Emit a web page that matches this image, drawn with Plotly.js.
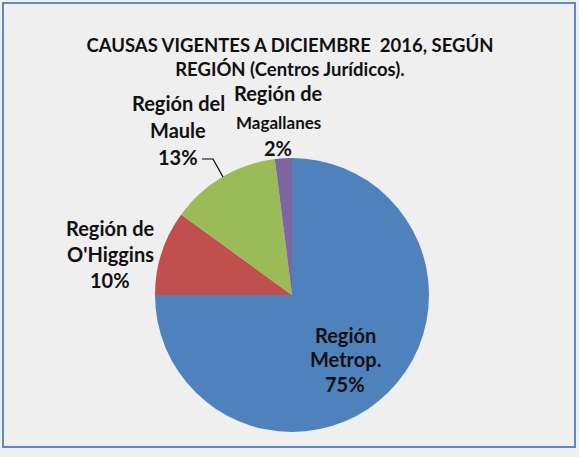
<!DOCTYPE html>
<html><head><meta charset="utf-8">
<script src="https://cdn.plot.ly/plotly-3.0.1.min.js"></script>
<style>body{margin:0;background:#fff}#chart{width:579px;height:457px}</style>
</head><body><div id="chart"></div>
<script>
const regions = ["Región Metrop.", "Región de O'Higgins", "Región del Maule", "Región de Magallanes"];
const labelLines = [["Región", "Metrop."], ["Región de", "O'Higgins"], ["Región del", "Maule"], ["Región de", "Magallanes"]];
const shares = [75, 10, 13, 2];
const colors = ["#4F81BD", "#C0504D", "#9BBB59", "#8064A2"];
const titleLines = ["CAUSAS VIGENTES A DICIEMBRE  2016, SEGÚN", "REGIÓN (Centros Jurídicos)."];

const W = 579, H = 457;
const px = x => x / W, py = y => 1 - y / H;

// label layout (pixels): center x and y of each line
const labelX = [345, 110, 178, 278];
const labelY = [[335, 359, 384], [228, 254, 280], [103, 130, 157], [93, 123, 148]];
const labelSize = [[20, 20, 20], [20, 20, 20], [20, 20, 20], [20, 17, 20]];
const FONT = "Lato, 'Open Sans', sans-serif";

const annotations = [];
regions.forEach((r, i) => {
  const lines = labelLines[i].concat([shares[i] + "%"]);
  lines.forEach((t, j) => {
    annotations.push({
      text: "<b>" + t + "</b>", x: px(labelX[i]), y: py(labelY[i][j]), xref: "paper", yref: "paper",
      xanchor: "center", yanchor: "middle", showarrow: false, align: "center",
      font: {family: FONT, size: labelSize[i][j], color: "#111"}
    });
  });
});

const data = [{
  type: "pie", labels: regions, values: shares, sort: false, direction: "clockwise", rotation: 0,
  marker: {colors: colors, line: {width: 0}}, textinfo: "none", hoverinfo: "label+percent",
  domain: {x: [155 / W, 429 / W], y: [25 / H, 299 / H]}, showlegend: false
}];

const layout = {
  width: W, height: H, margin: {l: 0, r: 0, t: 0, b: 0},
  paper_bgcolor: "#EFEFEF", plot_bgcolor: "#EFEFEF",
  title: {text: titleLines.map(t => "<b>" + t + "</b>").join("<br>"),
    x: px(290), xanchor: "center", y: py(51.5), yanchor: "middle",
    font: {family: FONT, size: 18.5, color: "#111"}},
  annotations: annotations,
  shapes: [
    {type: "rect", xref: "paper", yref: "paper", x0: px(3), x1: px(575), y0: py(3), y1: py(447),
      line: {color: "#5B8BC6", width: 2}, fillcolor: "rgba(0,0,0,0)"},
    {type: "path", xref: "paper", yref: "paper",
      path: `M ${px(202)} ${py(159)} L ${px(213)} ${py(159)} L ${px(223)} ${py(177)}`,
      line: {color: "#000", width: 1.2}}
  ]
};

Plotly.newPlot("chart", data, layout, {displayModeBar: false, staticPlot: true});
</script></body></html>
